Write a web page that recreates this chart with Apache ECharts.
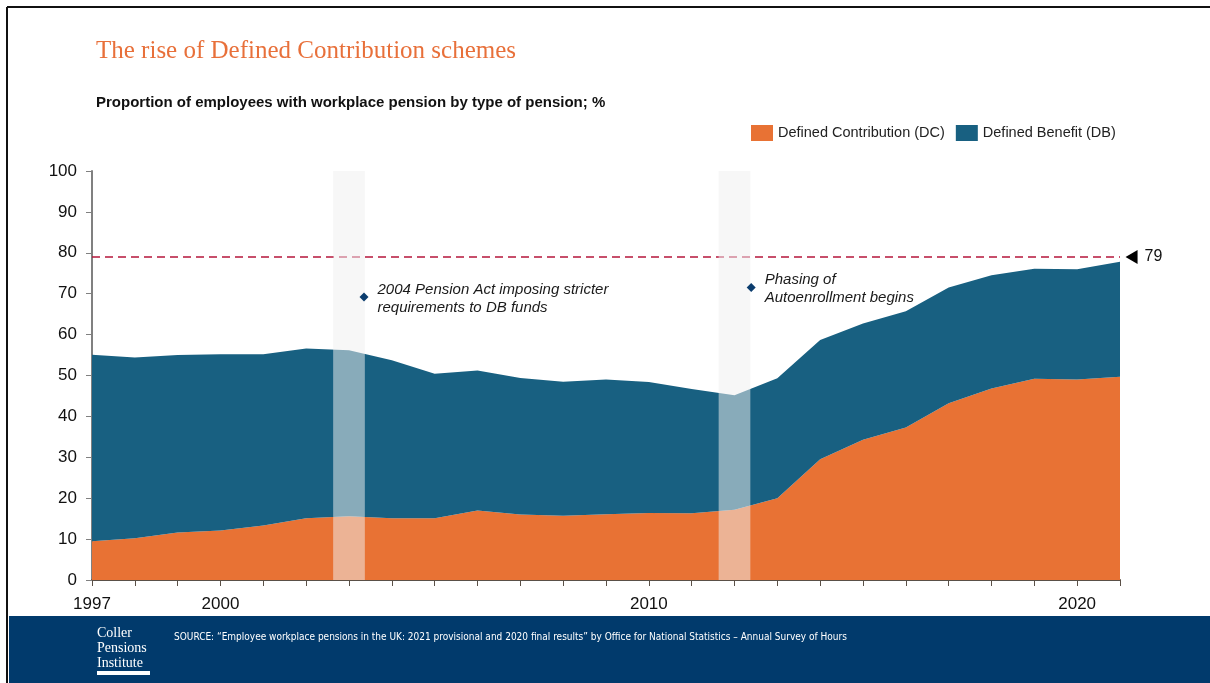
<!DOCTYPE html>
<html>
<head>
<meta charset="utf-8">
<script src="https://cdn.jsdelivr.net/npm/echarts@6/dist/echarts.min.js"></script>
<style>
  html, body { margin: 0; padding: 0; background: #fff; }
  #chart { width: 1210px; height: 683px; }
</style>
</head>
<body>
<div id="chart"></div>
<script>
const years = ['1997','1998','1999','2000','2001','2002','2003','2004','2005','2006','2007','2008','2009','2010','2011','2012','2013','2014','2015','2016','2017','2018','2019','2020','2021'];
const dcValues = [9.5,10.2,11.6,12.1,13.3,15.1,15.6,15.1,15.1,17.0,16.0,15.7,16.1,16.4,16.3,17.2,20.0,29.5,34.3,37.3,43.2,46.8,49.2,49.0,49.7];
const dbValues = [45.6,44.2,43.4,43.1,41.9,41.5,40.6,38.6,35.3,34.2,33.4,32.8,32.9,32.0,30.4,28.0,29.3,29.2,28.4,28.4,28.3,27.7,26.9,27.0,28.1];
const xLabelYears = ['1997', '2000', '2010', '2020'];
const referenceLevel = 79;
const highlightBands = [[2002.63, 2003.37], [2011.63, 2012.37]];
const annotations = [
  { x: 2003.35, y: 69.2, text: '2004 Pension Act imposing stricter\nrequirements to DB funds' },
  { x: 2012.39, y: 71.5, text: 'Phasing of\nAutoenrollment begins' }
];

const ORANGE = '#E87234';
const BLUE = '#186081';
const NAVY = '#013A6C';
const firstYear = +years[0];
const lastYear = +years[years.length - 1];

const chart = echarts.init(document.getElementById('chart'), null, { renderer: 'canvas' });

const option = {
  animation: false,
  backgroundColor: '#ffffff',
  title: [
    {
      text: 'The rise of Defined Contribution schemes',
      left: 96, top: 39, padding: 0,
      textStyle: { fontFamily: 'Liberation Serif, serif', fontSize: 25, fontWeight: 'normal', color: '#E8703A' }
    },
    {
      text: '{b|Proportion of employees with workplace pension by type of pension}{n|; %}',
      left: 96, top: 95, padding: 0,
      textStyle: {
        rich: {
          b: { fontFamily: 'Liberation Sans, Arial', fontSize: 15, fontWeight: 'bold', color: '#111' },
          n: { fontFamily: 'Liberation Sans, Arial', fontSize: 15, color: '#111' }
        }
      }
    }
  ],
  legend: {
    data: ['Defined Contribution (DC)', 'Defined Benefit (DB)'],
    left: 751, top: 125, padding: 0,
    icon: 'rect',
    itemWidth: 22, itemHeight: 16, itemGap: 11,
    textStyle: { fontFamily: 'Liberation Sans, Arial', fontSize: 14.5, color: '#222' }
  },
  grid: { left: 92, right: 90, top: 171, bottom: 103, containLabel: false },
  xAxis: [
    {
      type: 'category',
      data: years,
      boundaryGap: false,
      axisLine: { show: true, lineStyle: { color: '#5a5047', width: 2 } },
      axisTick: { show: true, length: 6, interval: 0, lineStyle: { color: '#5a5047', width: 1 } },
      splitLine: { show: false },
      axisLabel: {
        interval: 0,
        margin: 16,
        fontFamily: 'Liberation Sans, Arial', fontSize: 17, color: '#111',
        formatter: v => xLabelYears.indexOf(v) >= 0 ? v : ''
      }
    },
    {
      type: 'value',
      min: firstYear, max: lastYear,
      show: false
    }
  ],
  yAxis: {
    type: 'value',
    min: 0, max: 100, interval: 10,
    axisLine: { show: true, lineStyle: { color: '#808080', width: 2 } },
    axisTick: { show: true, length: 6, inside: false, lineStyle: { color: '#808080', width: 1 } },
    splitLine: { show: false },
    axisLabel: { margin: 15, fontFamily: 'Liberation Sans, Arial', fontSize: 17, color: '#111' }
  },
  series: [
    {
      name: 'Defined Contribution (DC)',
      type: 'line', stack: 'total', xAxisIndex: 0,
      data: dcValues,
      symbol: 'none', showSymbol: false, lineStyle: { width: 0, color: ORANGE },
      areaStyle: { color: ORANGE, opacity: 1 },
      itemStyle: { color: ORANGE },
      z: 2
    },
    {
      name: 'Defined Benefit (DB)',
      type: 'line', stack: 'total', xAxisIndex: 0,
      data: dbValues,
      symbol: 'none', showSymbol: false, lineStyle: { width: 0, color: BLUE },
      areaStyle: { color: BLUE, opacity: 1 },
      itemStyle: { color: BLUE },
      z: 3
    },
    {
      name: 'referenceLine',
      type: 'line', xAxisIndex: 1,
      data: [[firstYear, referenceLevel], [lastYear, referenceLevel]],
      symbol: 'none', showSymbol: false,
      lineStyle: { color: '#B5163B', type: [8, 5], width: 1.5 },
      z: 6, silent: true
    },
    {
      name: 'annotations',
      type: 'scatter', xAxisIndex: 1,
      data: annotations.map((a, i) => ({ value: [a.x, a.y], label: { formatter: a.text, offset: [0, i === 0 ? 2 : 1] } })),
      symbol: 'diamond', symbolSize: 9,
      itemStyle: { color: '#0B3D6E', opacity: 1 },
      clip: false,
      z: 10,
      label: {
        show: true, position: 'right', distance: 9,
        fontFamily: 'Liberation Sans, Arial', fontStyle: 'italic', fontSize: 15,
        lineHeight: 18, color: '#1a1a1a'
      },
      markArea: {
        silent: true,
        z: 8,
        itemStyle: { color: 'rgba(240,240,240,0.52)', opacity: 1 },
        data: highlightBands.map(b => [{ xAxis: b[0], yAxis: 0 }, { xAxis: b[1], yAxis: 100 }])
      }
    },
    {
      name: 'reference',
      type: 'scatter', xAxisIndex: 1,
      data: [[2021.27, referenceLevel]],
      symbol: 'triangle', symbolRotate: 90, symbolSize: [14, 12],
      itemStyle: { color: '#000', opacity: 1 },
      clip: false,
      z: 10,
      label: {
        show: true, position: 'right', distance: 7,
        formatter: String(referenceLevel),
        fontFamily: 'Liberation Sans, Arial', fontSize: 16, color: '#111'
      }
    }
  ],
  graphic: [
    { type: 'rect', shape: { x: 9, y: 616, width: 1201, height: 67 }, style: { fill: NAVY }, z: 0 },
    { type: 'line', shape: { x1: 7, y1: 7, x2: 1210, y2: 7 }, style: { stroke: '#111', lineWidth: 2 } },
    { type: 'line', shape: { x1: 7, y1: 7, x2: 7, y2: 683 }, style: { stroke: '#111', lineWidth: 2 } },
    { type: 'text', left: 97, top: 626, style: { text: 'Coller\nPensions\nInstitute', fill: '#fff', font: '14px "Liberation Serif", serif', lineHeight: 15 } },
    { type: 'rect', shape: { x: 97, y: 671, width: 53, height: 4 }, style: { fill: '#fff' } },
    { type: 'text', left: 174, top: 632, style: { text: 'SOURCE: \u201CEmployee workplace pensions in the UK: 2021 provisional and 2020 final results\u201D by Office for National Statistics \u2013 Annual Survey of Hours', fill: '#fff', font: '10px "Liberation Sans Narrow", "DejaVu Sans Condensed", sans-serif' } }
  ]
};

chart.setOption(option);
</script>
</body>
</html>
